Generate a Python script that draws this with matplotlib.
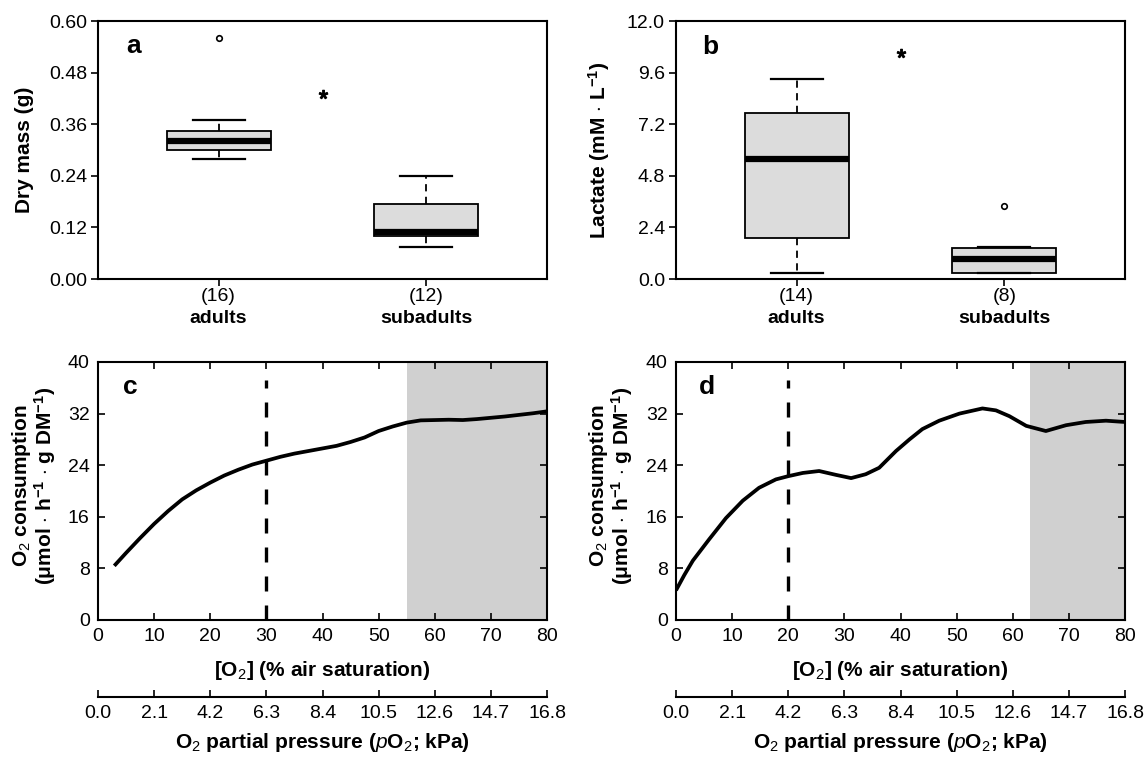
import matplotlib
matplotlib.use("Agg")
import matplotlib.pyplot as plt
import numpy as np

plt.rcParams['font.family'] = ['Liberation Sans', 'DejaVu Sans']
plt.rcParams['mathtext.fontset'] = 'custom'
plt.rcParams['mathtext.rm'] = 'Liberation Sans'
plt.rcParams['mathtext.bf'] = 'Liberation Sans:bold'
plt.rcParams['mathtext.it'] = 'Liberation Sans:italic'

# ---------------- data ----------------
groups = ["adults", "subadults"]
n_mass = ["(16)", "(12)"]
n_lact = ["(14)", "(8)"]

# dry mass (g): whislo, q1, med, q3, whishi, outliers
mass_whislo = [0.28, 0.075]
mass_q1 = [0.30, 0.10]
mass_med = [0.32, 0.11]
mass_q3 = [0.345, 0.175]
mass_whishi = [0.37, 0.24]
mass_fliers = [[0.56], []]
mass_star = (1.5, 0.43)

# lactate (mM/L)
lact_whislo = [0.3, 0.3]
lact_q1 = [1.9, 0.3]
lact_med = [5.6, 0.95]
lact_q3 = [7.7, 1.45]
lact_whishi = [9.3, 1.5]
lact_fliers = [[], [3.4]]
lact_star = (1.5, 10.5)

# O2 consumption curves
c_x = [2.9, 5, 7.5, 10, 12.5, 15, 17.5, 20, 22.5, 25, 27.5, 30, 32.5, 35, 37.5, 40, 42.5, 45,
       47.5, 50, 52.5, 55, 57.5, 60, 62.5, 65, 67.5, 70, 72.5, 75, 77.5, 80]
c_y = [8.4, 10.4, 12.7, 14.9, 16.9, 18.7, 20.1, 21.3, 22.4, 23.3, 24.1, 24.7, 25.3, 25.8, 26.2,
       26.6, 27.0, 27.6, 28.3, 29.3, 30.0, 30.6, 30.95, 31.0, 31.05, 31.0, 31.15, 31.35, 31.55,
       31.8, 32.05, 32.35]
c_pcrit = 30
c_shade = (55, 80)

d_x = [0, 1.5, 3.0, 5.9, 8.9, 11.9, 14.8, 17.8, 20, 22.6, 25.5, 28.5, 31.2, 33.8, 36.2, 39.2,
       41.6, 43.9, 46.9, 50.5, 54.6, 57.0, 59.4, 62.4, 65.9, 69.5, 73.0, 76.6, 80]
d_y = [4.6, 7.0, 9.2, 12.5, 15.8, 18.5, 20.5, 21.8, 22.3, 22.8, 23.1, 22.5, 22.0, 22.6, 23.6,
       26.2, 28.0, 29.6, 30.9, 32.0, 32.8, 32.5, 31.6, 30.1, 29.3, 30.2, 30.7, 30.9, 30.7]
d_pcrit = 20
d_shade = (63, 80)

kpa_ticks = [0.0, 2.1, 4.2, 6.3, 8.4, 10.5, 12.6, 14.7, 16.8]

# ---------------- figure ----------------
W, H = 1146, 760
fig = plt.figure(figsize=(W / 100, H / 100), dpi=100)

def ax_px(l, r, t, b):
    return fig.add_axes([l / W, (H - b) / H, (r - l) / W, (b - t) / H])

axA = ax_px(98, 547, 21, 279)
axB = ax_px(676, 1125, 21, 279)
axC = ax_px(98, 547, 362, 620)
axD = ax_px(676, 1125, 362, 620)

FS = 14
LFS = 15
box_fill = '#dcdcdc'

def boxpanel(ax, wl, q1, med, q3, wh, fl, star, ntxt, ylim, yticks, fmt, ylabel, letter, ylab_x, let_xy):
    stats = []
    for i in range(2):
        stats.append(dict(whislo=wl[i], q1=q1[i], med=med[i], q3=q3[i], whishi=wh[i], fliers=fl[i]))
    ax.bxp(stats, positions=[1, 2], widths=0.5, capwidths=0.25, patch_artist=True,
           boxprops=dict(facecolor=box_fill, edgecolor='black', linewidth=1.3),
           medianprops=dict(color='black', linewidth=4.5, solid_capstyle='butt'),
           whiskerprops=dict(color='black', linewidth=1.3, linestyle=(0, (4, 3))),
           capprops=dict(color='black', linewidth=1.6),
           flierprops=dict(marker='o', markersize=4, markerfacecolor='white',
                           markeredgecolor='black', markeredgewidth=1.2),
           manage_ticks=False)
    ax.plot([star[0]], [star[1]], marker=r'$*$', markersize=6, color='black', linestyle='none')
    ax.set_xlim(0.42, 2.58)
    ax.set_ylim(*ylim)
    ax.set_yticks(yticks)
    ax.set_yticklabels([fmt % v for v in yticks])
    ax.set_xticks([1, 2])
    ax.set_xticklabels(ntxt)
    ax.tick_params(direction='out', length=5, width=1.2, labelsize=FS, pad=1.5)
    ax.tick_params(axis='y', pad=3)
    for s in ax.spines.values():
        s.set_linewidth(1.5)
    for i, g in enumerate(groups):
        ax.text(i + 1, -0.152, g, transform=ax.get_xaxis_transform(), ha='center', va='center',
                fontsize=FS, fontweight='bold')
    ax.text(ylab_x, 0.5, ylabel, transform=ax.transAxes, rotation=90, ha='center', va='center',
            fontsize=LFS, fontweight='bold')
    ax.text(let_xy[0], let_xy[1], letter, transform=ax.transAxes, ha='center', va='center',
            fontsize=19, fontweight='bold')

boxpanel(axA, mass_whislo, mass_q1, mass_med, mass_q3, mass_whishi, mass_fliers, mass_star,
         n_mass, (0, 0.60), [0, 0.12, 0.24, 0.36, 0.48, 0.60], '%.2f', 'Dry mass (g)', 'a',
         -0.163, (0.079, 0.905))
boxpanel(axB, lact_whislo, lact_q1, lact_med, lact_q3, lact_whishi, lact_fliers, lact_star,
         n_lact, (0, 12.0), [0, 2.4, 4.8, 7.2, 9.6, 12.0], '%.1f',
         r'Lactate (mM $\cdot$ L$^{\mathbf{-1}}$)', 'b', -0.172, (0.076, 0.90))

ylab_c = 'O$_2$ consumption\n' + r'($\mathbf{\mu}$mol $\cdot$ h$^{\mathbf{-1}}$ $\cdot$ g DM$^{\mathbf{-1}}$)'

def curvepanel(ax, x, y, pcrit, shade, letter, ylab_x, let_x):
    ax.axvspan(shade[0], shade[1], color='#d0d0d0', linewidth=0, zorder=0)
    ax.plot(x, y, color='black', linewidth=2.7, solid_capstyle='butt', solid_joinstyle='round', zorder=3)
    ax.axvline(pcrit, ymin=0, ymax=0.93, color='black', linewidth=2.4, linestyle=(0, (4.5, 4.2)), zorder=2)
    ax.set_xlim(0, 80)
    ax.set_ylim(0, 40)
    ax.set_xticks(range(0, 81, 10))
    ax.set_yticks(range(0, 41, 8))
    ax.tick_params(direction='in', length=5, width=1.2, labelsize=FS, top=True, right=True, pad=6)
    for s in ax.spines.values():
        s.set_linewidth(1.5)
    ax.text(0.5, -0.194, '[O$_2$] (% air saturation)', transform=ax.transAxes, ha='center', va='center',
            fontsize=LFS, fontweight='bold')
    sec = ax.secondary_xaxis(-0.298, functions=(lambda v: v * 0.21, lambda v: v / 0.21))
    sec.set_xticks(kpa_ticks)
    sec.set_xticklabels(['%.1f' % v for v in kpa_ticks])
    sec.tick_params(direction='in', length=5, width=1.2, labelsize=FS, pad=6)
    sec.spines['bottom'].set_linewidth(1.5)
    ax.text(0.5, -0.473, r'O$_2$ partial pressure ($p$O$_2$; kPa)', transform=ax.transAxes,
            ha='center', va='center', fontsize=LFS, fontweight='bold')
    ax.text(ylab_x, 0.52, ylab_c, transform=ax.transAxes, rotation=90, ha='center', va='center',
            fontsize=LFS, fontweight='bold', linespacing=0.95)
    ax.text(let_x, 0.903, letter, transform=ax.transAxes, ha='center', va='center',
            fontsize=19, fontweight='bold')

curvepanel(axC, c_x, c_y, c_pcrit, c_shade, 'c', -0.143, 0.073)
curvepanel(axD, d_x, d_y, d_pcrit, d_shade, 'd', -0.145, 0.068)

fig.savefig('out.png', dpi=100)
